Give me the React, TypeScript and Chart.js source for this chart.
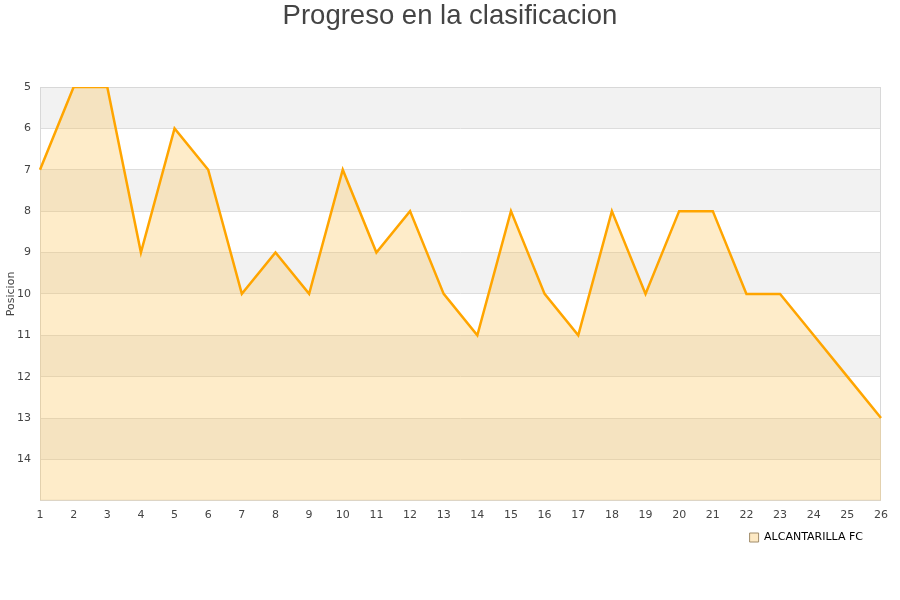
import { useEffect, useRef } from "react"
import { Chart, registerables } from "chart.js"

Chart.register(...registerables)

const jornadas = ["1", "2", "3", "4", "5", "6", "7", "8", "9", "10", "11", "12", "13", "14", "15", "16", "17", "18", "19", "20", "21", "22", "23", "24", "25", "26"]
const posiciones = [7, 5, 5, 9, 6, 7, 10, 9, 10, 7, 9, 8, 10, 11, 8, 10, 11, 8, 10, 8, 8, 10, 10, 11, 12, 13]
const equipo = "ALCANTARILLA FC"
const titulo = "Progreso en la clasificacion"

// alternate grey / white bands behind the data, plus a thin frame
const bandsPlugin = {
  id: "bands",
  afterLayout(chart: any) {
    // pull the legend a bit closer to the x axis, centre the title on the canvas
    if (chart.legend) chart.legend.top -= 8
    if (chart.titleBlock) chart.titleBlock.right = chart.width
  },
  beforeDraw(chart: any) {
    const { ctx, chartArea, scales } = chart
    const y = scales.y
    ctx.save()
    for (let v = y.min; v < y.max; v++) {
      const top = y.getPixelForValue(v)
      const bottom = y.getPixelForValue(v + 1)
      ctx.fillStyle = (v - y.min) % 2 === 0 ? "#f2f2f2" : "#ffffff"
      ctx.fillRect(chartArea.left, top, chartArea.right - chartArea.left, bottom - top)
    }
    ctx.restore()
  },
  beforeDatasetsDraw(chart: any) {
    const { ctx, chartArea } = chart
    ctx.save()
    ctx.strokeStyle = "#d8d8d8"
    ctx.lineWidth = 1
    ctx.strokeRect(chartArea.left + 0.5, chartArea.top + 0.5, chartArea.right - chartArea.left - 1, chartArea.bottom - chartArea.top - 1)
    ctx.restore()
  },
}

export default function App() {
  const canvasRef = useRef<HTMLCanvasElement>(null)
  const chartRef = useRef<Chart | null>(null)

  useEffect(() => {
    if (!canvasRef.current) return
    if (chartRef.current) chartRef.current.destroy()
    const ctx = canvasRef.current.getContext("2d")
    if (!ctx) return

    chartRef.current = new Chart(ctx, {
      type: "line",
      data: {
        labels: jornadas,
        datasets: [
          {
            label: equipo,
            data: posiciones,
            borderColor: "#ffa500",
            borderWidth: 2.5,
            backgroundColor: "rgba(252,194,81,0.31)",
            fill: { value: 15 },
            pointRadius: 0,
            tension: 0,
          },
        ],
      },
      options: {
        responsive: false,
        animation: false,
        layout: { padding: { left: 0, right: 19, top: 0, bottom: 39 } },
        plugins: {
          title: {
            display: true,
            text: titulo,
            color: "#444444",
            font: { family: "'Liberation Sans', Arial, sans-serif", size: 27.5, weight: "normal" },
            padding: { top: 0, bottom: 54 },
          },
          legend: {
            position: "bottom",
            align: "end",
            labels: {
              boxWidth: 9,
              boxHeight: 9,
              padding: 18,
              color: "#000000",
              font: { family: "'DejaVu Sans', sans-serif", size: 11 },
              generateLabels: () => [
                {
                  text: equipo,
                  fillStyle: "#fde9c4",
                  strokeStyle: "#a08c6a",
                  lineWidth: 1,
                  datasetIndex: 0,
                },
              ],
            },
          },
          tooltip: { enabled: false },
        },
        scales: {
          x: {
            offset: false,
            grid: { display: false },
            border: { display: false },
            ticks: {
              color: "#444444",
              font: { family: "'DejaVu Sans', sans-serif", size: 11 },
              maxRotation: 0,
              autoSkip: false,
              padding: 0,
            },
          },
          y: {
            reverse: true,
            min: 5,
            max: 15,
            afterFit: (scale: any) => {
              scale.width = 40
            },
            grid: { color: "#dddddd", drawTicks: false },
            border: { display: false },
            title: {
              display: true,
              text: "Posicion",
              color: "#444444",
              font: { family: "'DejaVu Sans', sans-serif", size: 11 },
              padding: { top: 5, bottom: 0 },
            },
            ticks: {
              stepSize: 1,
              color: "#444444",
              font: { family: "'DejaVu Sans', sans-serif", size: 11 },
              padding: 9,
              callback: (v: any) => (v === 15 ? "" : v),
            },
          },
        },
      },
      plugins: [bandsPlugin],
    })

    return () => {
      if (chartRef.current) chartRef.current.destroy()
    }
  }, [])

  return (
    <div style={{ position: "fixed", left: 0, top: 0, width: 900, height: 600, background: "#ffffff" }}>
      <canvas ref={canvasRef} width={900} height={600} />
    </div>
  )
}
